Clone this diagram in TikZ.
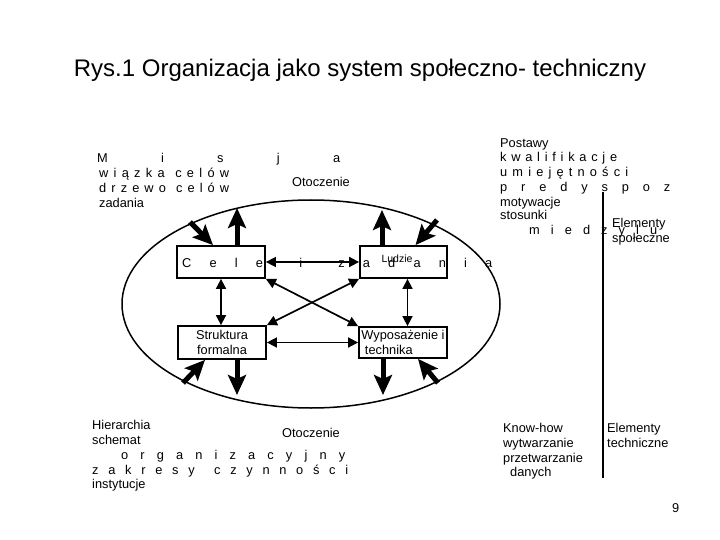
\documentclass[tikz,border=0pt]{standalone}
\usepackage{fontspec}
\setmainfont{Liberation Sans}
\usetikzlibrary{arrows.meta}
\newcommand{\rozstaw}[2]{\makebox[#1][s]{#2}}

\begin{document}
\begin{tikzpicture}[x=1pt,y=-1pt,
 txt/.style={anchor=base west,inner sep=0pt,font=\fontsize{12.8}{14.5}\selectfont},
 pole/.style={draw,line width=1.8pt,minimum width=88pt,minimum height=32pt,inner sep=0pt,font=\fontsize{12.8}{15}\selectfont},
 gruba/.style={line width=5pt,-{Stealth[length=20pt,width=18pt,inset=4pt]}},
 cienka/.style={line width=1.7pt,{Triangle[length=10pt,width=10pt]}-{Triangle[length=10pt,width=10pt]}}]
\useasboundingbox (0,0) rectangle (720,540);
\node[font=\fontsize{24}{28}\selectfont] (tytul) at (360,70) {Rys.1 Organizacja jako system społeczno- techniczny};
\draw[line width=1.5pt] (311,304) ellipse [x radius=189,y radius=104];
% boksy
\node[pole] (cele) at (221,262) {};
\node[pole,minimum width=87pt] (ludzie) at (403.5,262) {};
\node[pole,minimum height=33pt,align=center] (struktura) at (222,342.5) {Struktura\\formalna};
\node[pole,minimum height=31pt,align=left] (wyposazenie) at (403,342.5) {Wyposażenie i\\\ technika};
\node[txt] (celezad) at (182,267) {\rozstaw{310pt}{C e l e\ \ i\ \ z a d a n i a}};
\node[font=\fontsize{10.5}{12}\selectfont,inner sep=0pt] (ludzietxt) at (397,259) {Ludzie};
% polaczenia
\draw[cienka] (cele.east) -- (ludzie.west);
\draw[cienka] (struktura.east) -- (wyposazenie.west);
\draw[cienka] (cele.south) -- (cele.south |- struktura.north);
\draw[cienka] ([xshift=4pt]ludzie.south) -- ([xshift=4pt]ludzie.south |- wyposazenie.north);
\draw[cienka] (cele.south east) -- (wyposazenie.north west);
\draw[cienka] (struktura.north east) -- (ludzie.south west);
% otoczenie
\coordinate (celeOut) at (237,208);
\coordinate (celeIn) at (190,222);
\coordinate (ludzieOut) at (382,210);
\coordinate (ludzieIn) at (437,220);
\coordinate (strukturaOut) at (237,395);
\coordinate (strukturaIn) at (183,383);
\coordinate (wyposazenieOut) at (383,395);
\coordinate (wyposazenieIn) at (438,383);
\draw[gruba] ([xshift=16pt]cele.north) -- (celeOut);
\draw[gruba] (celeIn) -- ([xshift=-8pt]cele.north);
\draw[gruba] ([xshift=-21.5pt]ludzie.north) -- (ludzieOut);
\draw[gruba] (ludzieIn) -- ([xshift=12pt]ludzie.north);
\draw[gruba] ([xshift=15pt]struktura.south) -- (strukturaOut);
\draw[gruba] (strukturaIn) -- ([xshift=-17pt]struktura.south);
\draw[gruba] ([xshift=-20pt]wyposazenie.south) -- (wyposazenieOut);
\draw[gruba] (wyposazenieIn) -- ([xshift=15pt]wyposazenie.south);
% teksty lewe
\node[txt] (misja) at (97,162.5) {\rozstaw{243pt}{M i s j a}};
\node[txt] (wiazka) at (99,177.5) {\rozstaw{130pt}{w i ą z k a\ \ c e l ó w}};
\node[txt] (drzewo) at (99,192.5) {\rozstaw{130pt}{d r z e w o\ \ c e l ó w}};
\node[txt] (zadania) at (99,207.5) {zadania};
\node[txt] (otoczenie1) at (292,186.5) {Otoczenie};
\node[txt] (hierarchia) at (92,429.5) {Hierarchia};
\node[txt] (schemat) at (92,444.5) {schemat};
\node[txt] (organiz) at (121,459.5) {\rozstaw{224pt}{o r g a n i z a c y j n y}};
\node[txt] (zakresy) at (92,474.5) {\rozstaw{256pt}{z a k r e s y\ \ c z y n n o ś c i}};
\node[txt] (instytucje) at (92,488.5) {instytucje};
\node[txt] (otoczenie2) at (282,437.5) {Otoczenie};
% teksty prawe
\draw[line width=2.5pt] (603,192) coordinate (kreskaA) -- (603,478) coordinate (kreskaB);
\node[txt] (postawy) at (500,147.5) {Postawy};
\node[txt] (kwalif) at (500,161.5) {\rozstaw{117pt}{k w a l i f i k a c j e}};
\node[txt] (umiej) at (500,176.5) {\rozstaw{128pt}{u m i e j ę t n o ś c i}};
\node[txt] (predysp) at (500,191.5) {\rozstaw{170pt}{p r e d y s p o z}};
\node[txt] (motyw) at (500,206.5) {motywacje};
\node[txt] (stosunki) at (500,219.5) {stosunki};
\node[txt] (miedzy) at (529,234.5) {\rozstaw{128pt}{m i e d z y l u}};
\node[txt] (elemS1) at (612,227.5) {Elementy};
\node[txt] (elemS2) at (612,242.5) {społeczne};
\node[txt] (knowhow) at (503,432.5) {Know-how};
\node[txt] (wytw) at (503,447.5) {wytwarzanie};
\node[txt] (przetw) at (503,462.5) {przetwarzanie};
\node[txt] (danych) at (510,476.5) {danych};
\node[txt] (elemT1) at (607,432.5) {Elementy};
\node[txt] (elemT2) at (607,447.5) {techniczne};
\node[txt] (strona) at (672,512) {9};
\end{tikzpicture}
\end{document}
